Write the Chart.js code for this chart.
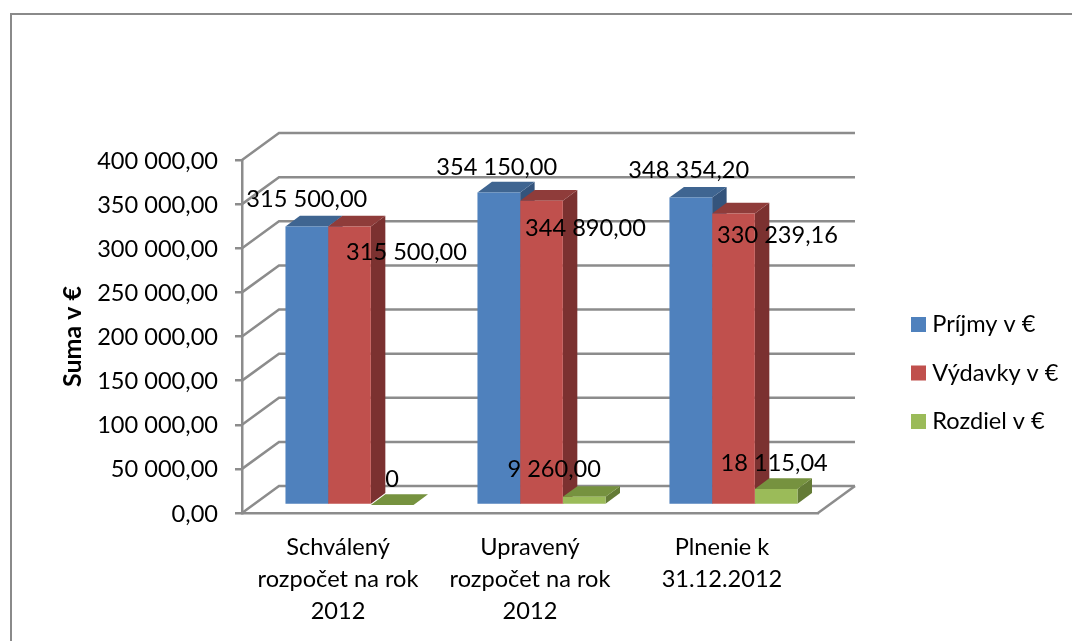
<!DOCTYPE html>
<html>
<head>
<meta charset="utf-8">
<title>Rozpočet 2012</title>
<script src="https://cdn.jsdelivr.net/npm/chart.js@4"></script>
<style>
    html, body { margin: 0; padding: 0; background: #fff; overflow: hidden; }
    #wrap { position: relative; width: 1072px; height: 641px; overflow: hidden; }
    #frame { position: absolute; left: 10px; top: 13px; width: 1100px; height: 700px; border: 2px solid #8a8a8a; box-sizing: border-box; }
    #myChart { position: absolute; left: 0; top: 0; }
</style>
</head>
<body>
<div id="wrap">
    <div id="frame"></div>
    <canvas id="myChart" width="1072" height="641"></canvas>
</div>
<script>
const categories = [
    ['Schválený', 'rozpočet na rok', '2012'],
    ['Upravený', 'rozpočet na rok', '2012'],
    ['Plnenie k', '31.12.2012']
];
const prijmy = [315500.00, 354150.00, 348354.20];
const vydavky = [315500.00, 344890.00, 330239.16];
const rozdiel = [0, 9260.00, 18115.04];
const prijmyLabels = ['315 500,00', '354 150,00', '348 354,20'];
const vydavkyLabels = ['315 500,00', '344 890,00', '330 239,16'];
const rozdielLabels = ['0', '9 260,00', '18 115,04'];

const FONT = 'Lato';
const FONT_SIZE = 23.6;
const GRID = '#8c8c8c';

// how far the back wall sits behind the front of the floor
const WALL_DX = 37;
const WALL_DY = -27;
// bars stand a bit behind the front edge
const BAR_DX = 11.5;
const BAR_DY = -8;
// depth of one bar
const DEPTH_DX = 14.5;
const DEPTH_DY = -10.7;

// label offset from the top centre of each bar
const labelShift = [
    [[0, -27], [-2, -25], [-2, -27]],
    [[57, 26], [44, 28], [44, 22]],
    [[0, -26], [-30, -27], [-2, -26]]
];
const allLabels = [prijmyLabels, vydavkyLabels, rozdielLabels];
const topColors = ['#3f6591', '#8f3c3a', '#76923f'];
const sideColors = ['#34547c', '#7b3130', '#647b36'];

function face(ctx, color, pts) {
    ctx.fillStyle = color;
    ctx.beginPath();
    pts.forEach(function (p, i) {
        if (i === 0) ctx.moveTo(p[0], p[1]);
        else ctx.lineTo(p[0], p[1]);
    });
    ctx.closePath();
    ctx.fill();
}

const walls = {
    id: 'walls',
    beforeDatasetsDraw(chart) {
        const ctx = chart.ctx;
        const area = chart.chartArea;
        const y = chart.scales.y;
        ctx.save();
        ctx.strokeStyle = GRID;
        ctx.lineWidth = 2.5;
        y.ticks.forEach(function (t) {
            const py = y.getPixelForValue(t.value);
            ctx.beginPath();
            ctx.moveTo(area.left, py);
            ctx.lineTo(area.left + WALL_DX, py + WALL_DY);
            ctx.lineTo(area.right + WALL_DX, py + WALL_DY);
            ctx.stroke();
        });
        // right edge of the floor
        ctx.beginPath();
        ctx.moveTo(area.right, area.bottom);
        ctx.lineTo(area.right + WALL_DX, area.bottom + WALL_DY);
        ctx.stroke();
        ctx.restore();

        // side and top faces, left to right so nearer bars cover the earlier ones
        ctx.save();
        ctx.translate(BAR_DX, BAR_DY);
        const n = chart.data.labels.length;
        for (let c = 0; c < n; c++) {
            chart.data.datasets.forEach(function (ds, d) {
                const bar = chart.getDatasetMeta(d).data[c];
                const l = bar.x - bar.width / 2;
                const r = bar.x + bar.width / 2;
                face(ctx, sideColors[d], [[r, bar.y], [r + DEPTH_DX, bar.y + DEPTH_DY], [r + DEPTH_DX, bar.base + DEPTH_DY], [r, bar.base]]);
                face(ctx, topColors[d], [[l, bar.y], [l + DEPTH_DX, bar.y + DEPTH_DY], [r + DEPTH_DX, bar.y + DEPTH_DY], [r, bar.y]]);
            });
        }
        ctx.restore();
        // the library bars follow, moved the same way
        ctx.save();
        ctx.translate(BAR_DX, BAR_DY);
    },
    afterDatasetsDraw(chart) {
        const ctx = chart.ctx;
        ctx.restore();
        ctx.save();
        ctx.font = FONT_SIZE + 'px ' + FONT;
        ctx.fillStyle = '#000';
        ctx.textAlign = 'center';
        ctx.textBaseline = 'middle';
        chart.data.datasets.forEach(function (ds, d) {
            chart.getDatasetMeta(d).data.forEach(function (bar, c) {
                const s = labelShift[d][c];
                ctx.fillText(allLabels[d][c], bar.x + BAR_DX + s[0], bar.y + BAR_DY + s[1]);
            });
        });
        ctx.restore();
    },
    afterLayout(chart) {
        // legend sits well right of the plot and lower than its default spot
        const lg = chart.legend;
        const dy = 373 - (lg.top + lg.bottom) / 2;
        lg.left = 916.5 - lg.options.labels.padding;
        lg.right = 1072;
        lg.top += dy;
        lg.bottom += dy;
    }
};

new Chart(document.getElementById('myChart'), {
    type: 'bar',
    data: {
        labels: categories,
        datasets: [
            { label: 'Príjmy v €', data: prijmy, backgroundColor: '#4f81bd' },
            { label: 'Výdavky v €', data: vydavky, backgroundColor: '#c0504d' },
            { label: 'Rozdiel v €', data: rozdiel, backgroundColor: '#9bbb59' }
        ]
    },
    options: {
        responsive: false,
        animation: false,
        devicePixelRatio: 1,
        datasets: { bar: { categoryPercentage: 0.667, barPercentage: 1, clip: false } },
        layout: { padding: { left: 58, right: 77, top: 160, bottom: 0 } },
        plugins: {
            title: { display: false },
            tooltip: { enabled: false },
            legend: {
                position: 'right',
                labels: {
                    usePointStyle: true,
                    pointStyle: 'rect',
                    boxWidth: 4,
                    boxHeight: 15,
                    padding: 25,
                    color: '#000',
                    font: { family: FONT, size: FONT_SIZE }
                }
            }
        },
        scales: {
            x: {
                afterFit(scale) { scale.height = 128; },
                grid: { display: true, drawOnChartArea: false, drawTicks: false, color: GRID, lineWidth: 2 },
                border: { color: GRID, width: 2.5 },
                ticks: {
                    color: '#000',
                    padding: 18,
                    maxRotation: 0,
                    autoSkip: false,
                    font: { family: FONT, size: FONT_SIZE, lineHeight: 1.37 }
                }
            },
            y: {
                min: 0,
                max: 400000,
                afterFit(scale) { scale.width = 184; },
                grid: { drawOnChartArea: false, tickLength: 7, color: GRID, lineWidth: 2.5 },
                border: { color: GRID, width: 2.5 },
                title: {
                    display: true,
                    text: 'Suma v €',
                    color: '#000',
                    padding: 0,
                    font: { family: FONT, size: 25, weight: 'bold' }
                },
                ticks: {
                    stepSize: 50000,
                    color: '#000',
                    padding: 17,
                    labelOffset: 1,
                    font: { family: FONT, size: FONT_SIZE },
                    callback: function (v) {
                        if (v === 0) return '0,00';
                        return Math.floor(v / 1000) + ' 000,00';
                    }
                }
            }
        }
    },
    plugins: [walls]
});
</script>
</body>
</html>
